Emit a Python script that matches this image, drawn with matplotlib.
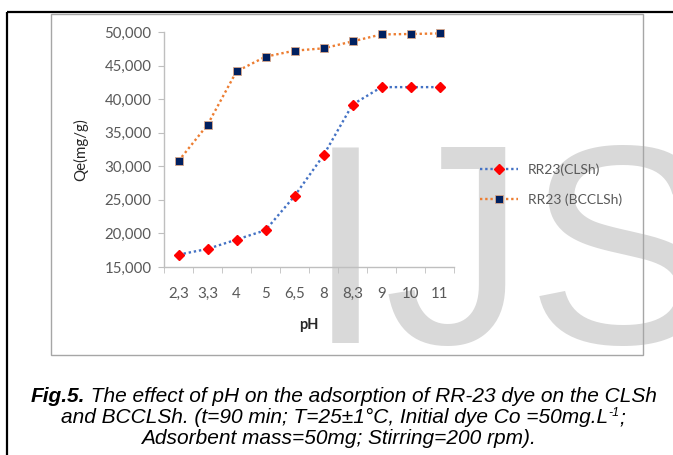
import matplotlib
matplotlib.use("Agg")
import matplotlib.pyplot as plt
from matplotlib.patches import Rectangle
from matplotlib.lines import Line2D
from matplotlib.ticker import FuncFormatter, FixedLocator

# data
ph_labels = ["2,3", "3,3", "4", "5", "6,5", "8", "8,3", "9", "10", "11"]
qe_clsh = [16840, 17690, 19080, 20480, 25560, 31630, 39190, 41790, 41790, 41790]
qe_bcclsh = [30790, 36170, 44130, 46320, 47220, 47570, 48600, 49640, 49700, 49790]
y_ticks = [15000, 20000, 25000, 30000, 35000, 40000, 45000, 50000]

W, H = 673, 455
fig = plt.figure(figsize=(W / 100, H / 100), dpi=100)

def fx(px):
    return px / W

def fy(py):
    return 1 - py / H

# watermark behind the chart
fig.text(fx(306), fy(343), "IJS", fontsize=205, family="Liberation Sans",
         color="#D9D9D9", ha="left", va="baseline", zorder=-5)

# outer black frame (top and left) and grey chart border
fig.add_artist(Line2D([fx(7), 1.0], [fy(12), fy(12)], color="black", lw=1.6,
                      solid_capstyle="butt", transform=fig.transFigure))
fig.add_artist(Line2D([fx(7), fx(7)], [fy(12), 0.0], color="black", lw=1.6,
                      solid_capstyle="butt", transform=fig.transFigure))
fig.add_artist(Rectangle((fx(51), fy(355)), fx(643) - fx(51), fy(14) - fy(355),
                         transform=fig.transFigure, fill=False, ec="#A6A6A6", lw=1.0))

ax = fig.add_axes([fx(164), fy(267), fx(454) - fx(164), fy(32) - fy(267)])
ax.set_facecolor("none")

x = list(range(len(ph_labels)))
ax.plot(x, qe_clsh, color="#4472C4", linestyle=(0, (1, 1.2)), lw=1.7,
        marker="D", markersize=5, markerfacecolor="#FF0000", markeredgecolor="#FF0000",
        label="RR23(CLSh)", clip_on=False, zorder=3)
ax.plot(x, qe_bcclsh, color="#ED7D31", linestyle=(0, (1, 1.2)), lw=1.7,
        marker="s", markersize=6.3, markerfacecolor="#002060", markeredgecolor="#D9A88A",
        markeredgewidth=0.6, label="RR23 (BCCLSh)", clip_on=False, zorder=3)

ax.set_xlim(-0.5, len(ph_labels) - 0.5)
ax.set_ylim(15000, 50000)
ax.set_xticks(x)
ax.set_xticklabels(ph_labels)
ax.xaxis.set_minor_locator(FixedLocator([i - 0.5 for i in range(len(ph_labels) + 1)]))
ax.set_yticks(y_ticks)
ax.yaxis.set_major_formatter(FuncFormatter(lambda v, p: f"{v:,.0f}"))

axis_col = "#BFBFBF"
for s in ["top", "right"]:
    ax.spines[s].set_visible(False)
for s in ["left", "bottom"]:
    ax.spines[s].set_color(axis_col)
    ax.spines[s].set_linewidth(1.0)

ax.tick_params(axis="x", which="major", length=0, pad=14.5, labelsize=10.8, labelcolor="#595959")
ax.tick_params(axis="x", which="minor", length=4, direction="out", color=axis_col)
ax.tick_params(axis="y", which="major", length=4, direction="out", color=axis_col,
               labelsize=10.8, labelcolor="#595959", pad=5)
for lab in ax.get_xticklabels() + ax.get_yticklabels():
    lab.set_family("Lato")

ax.set_ylabel("Qe(mg/g)", family="Lato", fontsize=10.8, color="#262626")
ax.yaxis.set_label_coords(-0.26, 0.5)
ax.set_xlabel("pH", family="Lato", fontsize=10.5, fontweight="bold", color="#262626")
ax.xaxis.set_label_coords(0.5, -0.215)

ax.legend(loc="center left", bbox_to_anchor=(fx(480), fy(185)), bbox_transform=fig.transFigure,
          frameon=False, borderpad=0, borderaxespad=0, handlelength=2.7, handletextpad=0.75,
          labelspacing=1.25, prop={"family": "Lato", "size": 10}, labelcolor="#595959")

# caption, written piece by piece so bold and superscript parts line up
cap_size = 15
renderer = fig.canvas.get_renderer()

def caption_line(pieces, cx, base_y):
    texts = []
    total = 0
    for txt, size, weight, rise in pieces:
        t = fig.text(0, 0, txt, fontsize=size, family="Liberation Sans", style="italic",
                     fontweight=weight, va="baseline", ha="left")
        w = t.get_window_extent(renderer).width
        texts.append((t, w, rise))
        total += w
    pos = cx - total / 2
    for t, w, rise in texts:
        t.set_position((fx(pos), fy(base_y - rise)))
        pos += w

caption_line([("Fig.5.", cap_size, "bold", 0),
              (" The effect of pH on the adsorption of RR-23 dye on the CLSh", cap_size, "normal", 0)],
             344, 402)
caption_line([("and BCCLSh. (t=90 min; T=25\u00b11\u00b0C, Initial dye Co =50mg.L", cap_size, "normal", 0),
              ("-1", cap_size * 0.6, "normal", 7),
              (";", cap_size, "normal", 0)],
             343, 423)
caption_line([("Adsorbent mass=50mg; Stirring=200 rpm).", cap_size, "normal", 0)], 338, 444)

fig.savefig("out.png", dpi=100)
